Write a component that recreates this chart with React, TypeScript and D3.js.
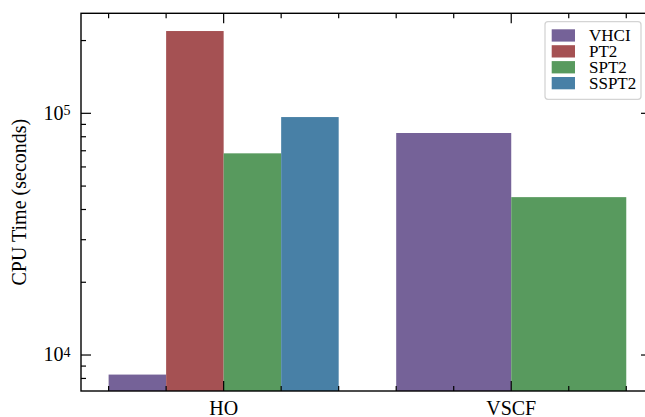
import React from "react";
import * as d3 from "d3";

// Data
const categories = ["HO", "VSCF"];
const methods = ["VHCI", "PT2", "SPT2", "SSPT2"];
const methodColors = ["#756298", "#a55153", "#589a5e", "#4880a6"];
// CPU time in seconds per method; null = not run for that reference
const hoTimes: (number | null)[] = [8300, 219000, 68300, 96500];
const vscfTimes: (number | null)[] = [82900, null, 45000, null];
const yMajorTicks = [1e4, 1e5];
const yMajorExponents = ["4", "5"];

const W = 645;
const H = 417;
const FONT = "'Liberation Serif', 'Times New Roman', Times, serif";

const plot = { left: 81, right: 651, top: 13.3, bottom: 391 };

export default function App() {
  const x = d3.scaleLinear().domain([-0.496, 1.486]).range([plot.left, plot.right]);
  const y = d3.scaleLog().domain([7098, 259300]).range([plot.bottom, plot.top]);

  const groups = [hoTimes, vscfTimes];
  const groupSpan = 0.8;

  type Bar = { key: string; x0: number; x1: number; v: number; color: string };
  const bars: Bar[] = [];
  groups.forEach((vals, gi) => {
    const present = vals
      .map((v, mi) => ({ v, mi }))
      .filter((d) => d.v !== null) as { v: number; mi: number }[];
    const bw = groupSpan / present.length;
    present.forEach((d, k) => {
      const start = gi - groupSpan / 2 + k * bw;
      bars.push({
        key: `${categories[gi]}-${methods[d.mi]}`,
        x0: x(start),
        x1: x(start + bw),
        v: d.v,
        color: methodColors[d.mi],
      });
    });
  });

  // x minor ticks every 0.2 across the bar extents
  const xMinor = d3.range(-0.4, 1.41, 0.2).filter((t) => Math.abs(t - Math.round(t)) > 1e-6);
  const xMajor = categories.map((_, i) => i);

  // y minor ticks
  const yMinor: number[] = [];
  for (let e = 3; e <= 5; e++) {
    for (let m = 2; m <= 9; m++) {
      const v = m * Math.pow(10, e);
      if (v >= y.domain()[0] && v <= y.domain()[1]) yMinor.push(v);
    }
  }

  const major = 10;
  const minor = 5;
  const sw = 1.4;

  const legend = { x: 545, y: 21.7, w: 96, h: 77.6 };

  return (
    <svg width={W} height={H} style={{ position: "absolute", left: 0, top: 0, background: "#fff" }}>
      <rect x={0} y={0} width={W} height={H} fill="#fff" />
      <g>
        {bars.map((b) => (
          <rect
            key={b.key}
            x={b.x0}
            y={y(b.v)}
            width={b.x1 - b.x0}
            height={plot.bottom - y(b.v)}
            fill={b.color}
          />
        ))}
      </g>

      {/* x ticks, bottom and top, pointing inward */}
      <g stroke="#000" strokeWidth={1.2}>
        {xMinor.map((t) => (
          <g key={`xm${t}`}>
            <line x1={x(t)} x2={x(t)} y1={plot.bottom} y2={plot.bottom - minor} />
            <line x1={x(t)} x2={x(t)} y1={plot.top} y2={plot.top + minor} />
          </g>
        ))}
        {xMajor.map((t) => (
          <g key={`xM${t}`}>
            <line x1={x(t)} x2={x(t)} y1={plot.bottom} y2={plot.bottom - major} />
            <line x1={x(t)} x2={x(t)} y1={plot.top} y2={plot.top + major} />
          </g>
        ))}
        {yMinor.map((t) => (
          <g key={`ym${t}`}>
            <line x1={plot.left} x2={plot.left + minor} y1={y(t)} y2={y(t)} />
            <line x1={plot.right} x2={plot.right - minor} y1={y(t)} y2={y(t)} />
          </g>
        ))}
        {yMajorTicks.map((t) => (
          <g key={`yM${t}`}>
            <line x1={plot.left} x2={plot.left + major} y1={y(t)} y2={y(t)} />
            <line x1={plot.right} x2={plot.right - major} y1={y(t)} y2={y(t)} />
          </g>
        ))}
      </g>

      {/* frame */}
      <rect
        x={plot.left}
        y={plot.top}
        width={plot.right - plot.left}
        height={plot.bottom - plot.top}
        fill="none"
        stroke="#000"
        strokeWidth={sw}
      />

      {/* y tick labels */}
      <g fontFamily={FONT} fill="#000">
        {yMajorTicks.map((t, i) => (
          <g key={`yl${t}`}>
            <text x={63.5} y={y(t) + 6.3} fontSize={20} textAnchor="end">
              10
            </text>
            <text x={63.6} y={y(t) + 1.7} fontSize={14} textAnchor="start">
              {yMajorExponents[i]}
            </text>
          </g>
        ))}
      </g>

      {/* x tick labels */}
      <g fontFamily={FONT} fill="#000" fontSize={20} textAnchor="middle">
        {categories.map((c, i) => (
          <text key={c} x={x(i)} y={414.5}>
            {c}
          </text>
        ))}
      </g>

      {/* y axis title */}
      <text
        transform={`translate(26,${(plot.top + plot.bottom) / 2}) rotate(-90)`}
        fontFamily={FONT}
        fontSize={20}
        textAnchor="middle"
        fill="#000"
      >
        CPU Time (seconds)
      </text>

      {/* legend */}
      <g>
        <rect
          x={legend.x}
          y={legend.y}
          width={legend.w}
          height={legend.h}
          rx={3}
          fill="#fff"
          fillOpacity={0.8}
          stroke="#d4d4d4"
          strokeWidth={1.3}
        />
        {methods.map((m, i) => (
          <g key={m} transform={`translate(0,${29.3 + i * 15.9})`}>
            <rect x={551.7} y={0} width={23.3} height={12.3} fill={methodColors[i]} />
            <text x={589} y={12} fontFamily={FONT} fontSize={17} fill="#000">
              {m}
            </text>
          </g>
        ))}
      </g>
    </svg>
  );
}
